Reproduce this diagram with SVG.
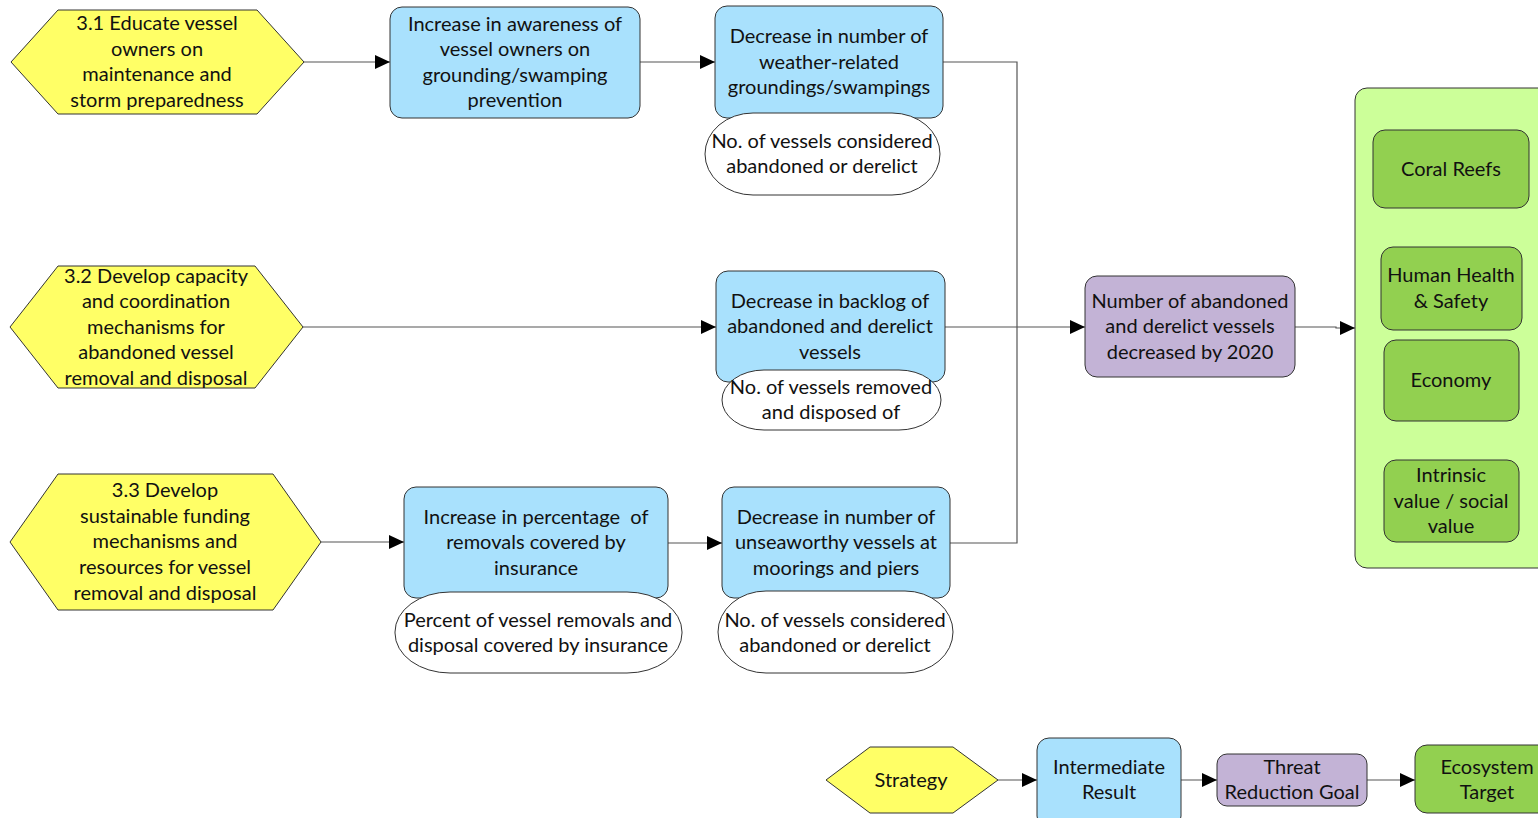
<svg xmlns="http://www.w3.org/2000/svg" width="1538" height="818" viewBox="0 0 1538 818">
<style>
text{font-family:Lato,"Open Sans","Liberation Sans",sans-serif;font-size:20px;fill:#111;text-anchor:middle}
.hex{fill:#ffff66;stroke:#333;stroke-width:1}
.ir{fill:#a9e1fd;stroke:#333;stroke-width:1}
.ind{fill:#fff;stroke:#333;stroke-width:1}
.tr{fill:#c3b3d6;stroke:#333;stroke-width:1}
.eco{fill:#ccff99;stroke:#333;stroke-width:1}
.tgt{fill:#92d050;stroke:#333;stroke-width:1}
.c{fill:none;stroke:#555;stroke-width:1.2}
</style>
<defs>
<marker id="ah" markerUnits="userSpaceOnUse" markerWidth="16" markerHeight="14" refX="15" refY="7" orient="auto">
<path d="M0,0 L15,7 L0,14 Z" fill="#000"/>
</marker>
</defs>
<rect width="1538" height="818" fill="#fff"/>
<g id="connectors">
<path class="c" d="M304,62 H390" marker-end="url(#ah)"/>
<path class="c" d="M640,62 H715" marker-end="url(#ah)"/>
<path class="c" d="M943,62 H1017 V327"/>
<path class="c" d="M950,543 H1017 V327"/>
<path class="c" d="M945,327 H1085" marker-end="url(#ah)"/>
<path class="c" d="M303,327 H716" marker-end="url(#ah)"/>
<path class="c" d="M321,542 H404" marker-end="url(#ah)"/>
<path class="c" d="M668,543 H722" marker-end="url(#ah)"/>
<path class="c" d="M1295,327 H1336 V328 H1355" marker-end="url(#ah)"/>
<path class="c" d="M998,780 H1037" marker-end="url(#ah)"/>
<path class="c" d="M1181,780 H1217" marker-end="url(#ah)"/>
<path class="c" d="M1367,780 H1415" marker-end="url(#ah)"/>
</g>
<g id="s31">
<polygon class="hex" points="11,62 58,10 257,10 304,62 257,114 58,114"/>
<text x="157" y="30">3.1 Educate vessel</text>
<text x="157" y="56">owners on</text>
<text x="157" y="81">maintenance and</text>
<text x="157" y="107">storm preparedness</text>
</g>
<g id="ir1">
<rect class="ir" x="390" y="7" width="250" height="111" rx="12"/>
<text x="515" y="31">Increase in awareness of</text>
<text x="515" y="56">vessel owners on</text>
<text x="515" y="82">grounding/swamping</text>
<text x="515" y="107">prevention</text>
</g>
<g id="ir2">
<rect class="ir" x="715" y="6" width="228" height="112" rx="12"/>
<text x="829" y="43">Decrease in number of</text>
<text x="829" y="69">weather-related</text>
<text x="829" y="94">groundings/swampings</text>
</g>
<g id="ind1">
<rect class="ind" x="705" y="113" width="235" height="82" rx="48" ry="41"/>
<text x="822" y="148">No. of vessels considered</text>
<text x="822" y="173">abandoned or derelict</text>
</g>
<g id="s32">
<polygon class="hex" points="10,327 58,266 255,266 303,327 255,388 58,388"/>
<text x="156" y="283">3.2 Develop capacity</text>
<text x="156" y="308">and coordination</text>
<text x="156" y="334">mechanisms for</text>
<text x="156" y="359">abandoned vessel</text>
<text x="156" y="385">removal and disposal</text>
</g>
<g id="ir3">
<rect class="ir" x="716" y="271" width="229" height="111" rx="12"/>
<text x="830" y="308">Decrease in backlog of</text>
<text x="830" y="333">abandoned and derelict</text>
<text x="830" y="359">vessels</text>
</g>
<g id="ind2">
<rect class="ind" x="722" y="370" width="219" height="60" rx="42" ry="30"/>
<text x="831" y="394">No. of vessels removed</text>
<text x="831" y="419">and disposed of</text>
</g>
<g id="trg">
<rect class="tr" x="1085" y="276" width="210" height="101" rx="12"/>
<text x="1190" y="308">Number of abandoned</text>
<text x="1190" y="333">and derelict vessels</text>
<text x="1190" y="359">decreased by 2020</text>
</g>
<g id="targets">
<rect class="eco" x="1355" y="88" width="200" height="480" rx="12"/>
</g>
<g id="coral">
<rect class="tgt" x="1373" y="130" width="156" height="78" rx="12"/>
<text x="1451" y="176">Coral Reefs</text>
</g>
<g id="health">
<rect class="tgt" x="1381" y="247" width="141" height="83" rx="12"/>
<text x="1451" y="282">Human Health</text>
<text x="1451" y="308">&amp; Safety</text>
</g>
<g id="economy">
<rect class="tgt" x="1384" y="340" width="135" height="81" rx="12"/>
<text x="1451" y="387">Economy</text>
</g>
<g id="intrinsic">
<rect class="tgt" x="1384" y="460" width="135" height="82" rx="12"/>
<text x="1451" y="482">Intrinsic</text>
<text x="1451" y="508">value / social</text>
<text x="1451" y="533">value</text>
</g>
<g id="s33">
<polygon class="hex" points="10,542 58,474 273,474 321,542 273,610 58,610"/>
<text x="165" y="497">3.3 Develop</text>
<text x="165" y="523">sustainable funding</text>
<text x="165" y="548">mechanisms and</text>
<text x="165" y="574">resources for vessel</text>
<text x="165" y="600">removal and disposal</text>
</g>
<g id="ir4">
<rect class="ir" x="404" y="487" width="264" height="111" rx="12"/>
<text x="536" y="524" style="white-space:pre">Increase in percentage  of</text>
<text x="536" y="549">removals covered by</text>
<text x="536" y="575">insurance</text>
</g>
<g id="ind3">
<rect class="ind" x="395" y="592" width="287" height="81" rx="55" ry="40"/>
<text x="538" y="627">Percent of vessel removals and</text>
<text x="538" y="652">disposal covered by insurance</text>
</g>
<g id="ir5">
<rect class="ir" x="722" y="487" width="228" height="111" rx="12"/>
<text x="836" y="524">Decrease in number of</text>
<text x="836" y="549">unseaworthy vessels at</text>
<text x="836" y="575">moorings and piers</text>
</g>
<g id="ind4">
<rect class="ind" x="718" y="591" width="235" height="82" rx="48" ry="41"/>
<text x="835" y="627">No. of vessels considered</text>
<text x="835" y="652">abandoned or derelict</text>
</g>
<g id="leg-strategy">
<polygon class="hex" points="826,780 870,747 953,747 998,780 953,813 870,813"/>
<text x="911" y="787">Strategy</text>
</g>
<g id="leg-ir">
<rect class="ir" x="1037" y="738" width="144" height="90" rx="12"/>
<text x="1109" y="774">Intermediate</text>
<text x="1109" y="799">Result</text>
</g>
<g id="leg-trg">
<rect class="tr" x="1217" y="754" width="150" height="52" rx="10"/>
<text x="1292" y="774">Threat</text>
<text x="1292" y="799">Reduction Goal</text>
</g>
<g id="leg-target">
<rect class="tgt" x="1415" y="745" width="135" height="68" rx="12"/>
<text x="1487" y="774">Ecosystem</text>
<text x="1487" y="799">Target</text>
</g>
</svg>
